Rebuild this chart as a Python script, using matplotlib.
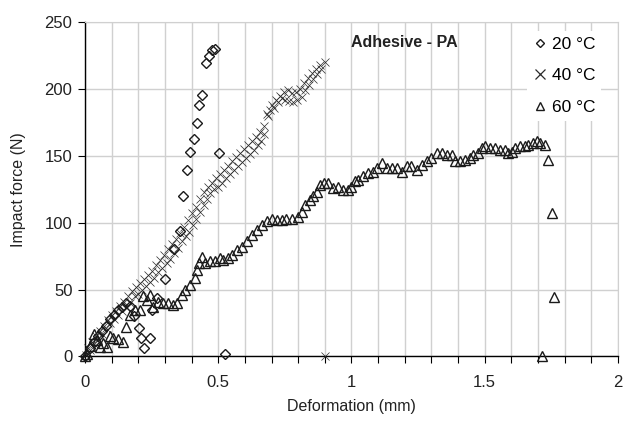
import matplotlib
matplotlib.use("Agg")
import matplotlib.pyplot as plt
from matplotlib.ticker import MultipleLocator

plt.rcParams['font.family'] = ['Liberation Sans', 'DejaVu Sans']

# 20 °C (diamonds)
x20 = [0.0, 0.02, 0.035, 0.05, 0.065, 0.08, 0.095, 0.11, 0.125, 0.14, 0.155, 0.17,
       0.185, 0.201, 0.211, 0.22, 0.243, 0.251, 0.27, 0.30, 0.335, 0.356, 0.367,
       0.383, 0.393, 0.408, 0.419, 0.428, 0.439, 0.455, 0.466, 0.478, 0.488, 0.503, 0.525]
y20 = [0, 6, 11, 15, 19, 23, 28, 31, 35, 37, 40, 38,
       30, 21, 13.6, 6, 14, 35, 44, 58, 80, 94, 119.6,
       139.4, 153, 162.6, 174.8, 188, 195.5, 219.4, 224.4, 228.9, 229.4, 151.8, 2]

# 40 °C (crosses)
x40 = [0.005, 0.02, 0.035, 0.05, 0.065, 0.08, 0.095, 0.11, 0.125, 0.14, 0.155, 0.17,
       0.188, 0.2, 0.215, 0.23, 0.245, 0.26, 0.275, 0.29, 0.309, 0.32, 0.335, 0.35,
       0.365, 0.378, 0.391, 0.405, 0.418, 0.432, 0.445, 0.458, 0.47, 0.485, 0.5, 0.515,
       0.53, 0.545, 0.56, 0.575, 0.59, 0.605, 0.62, 0.635, 0.65, 0.662, 0.672, 0.682,
       0.695, 0.71, 0.725, 0.738, 0.75, 0.765, 0.78, 0.795, 0.813, 0.825, 0.84, 0.855,
       0.87, 0.885, 0.9,
       0.01, 0.025, 0.04, 0.055, 0.07, 0.085, 0.1, 0.115, 0.13, 0.145, 0.16, 0.175,
       0.19, 0.205, 0.22, 0.235, 0.25, 0.265, 0.28, 0.295, 0.31, 0.325, 0.34, 0.355,
       0.37, 0.385, 0.4, 0.415, 0.43, 0.445, 0.46, 0.475, 0.49, 0.505, 0.52, 0.535,
       0.55, 0.565, 0.58, 0.595, 0.61, 0.625, 0.64, 0.655, 0.67, 0.685, 0.7, 0.715,
       0.73, 0.745, 0.76, 0.775, 0.79, 0.805, 0.82, 0.835, 0.85, 0.865, 0.88,
       0.9]
y40 = [1, 5, 9, 13, 17, 21, 25, 28, 31, 34, 37, 40,
       45, 47, 50, 53, 56, 59, 63, 66, 70, 73, 77, 81,
       86, 90, 93, 98, 103, 108, 113, 118, 122, 125, 127, 130,
       133, 136, 139, 142, 145, 148, 151, 154, 158, 161, 166, 181,
       184, 186, 190, 193, 192, 191, 190, 192, 194, 199, 203, 207,
       211, 215, 220,
       6, 11, 15, 19, 23, 27, 31, 34, 38, 41, 45, 49,
       52, 55, 58, 61, 64, 68, 72, 76, 80, 84, 88, 92,
       97, 102, 107, 112, 118, 123, 127, 130, 133, 136, 139, 142,
       146, 149, 152, 155, 158, 161, 164, 168, 172, 180, 188, 192,
       195, 198, 199, 197, 198, 200, 204, 208, 212, 215, 218,
       0]

# 60 °C (triangles)
x60 = [0.0, 0.009, 0.02, 0.033, 0.045, 0.056, 0.068, 0.081, 0.094, 0.105, 0.125, 0.141,
       0.154, 0.169, 0.188, 0.206, 0.219, 0.232, 0.244, 0.256, 0.275, 0.294, 0.313, 0.331,
       0.344, 0.363, 0.375, 0.394, 0.413, 0.419, 0.429, 0.438, 0.45, 0.469, 0.488, 0.507,
       0.519, 0.538, 0.55, 0.569, 0.588, 0.607, 0.625, 0.644, 0.663, 0.682, 0.70, 0.719,
       0.738, 0.756, 0.775, 0.80, 0.813, 0.825, 0.844, 0.857, 0.869, 0.882, 0.895, 0.913,
       0.932, 0.951, 0.969, 0.988, 1.0, 1.013, 1.026, 1.044, 1.063, 1.082, 1.094, 1.113,
       1.132, 1.151, 1.169, 1.188, 1.207, 1.225, 1.244, 1.263, 1.282, 1.30, 1.319, 1.338,
       1.357, 1.376, 1.388, 1.407, 1.426, 1.445, 1.457, 1.476, 1.488, 1.501, 1.52, 1.538,
       1.557, 1.576, 1.589, 1.601, 1.614, 1.632, 1.651, 1.664, 1.682, 1.695, 1.707, 1.726,
       1.739, 1.751, 1.76, 1.714]
y60 = [0, 2, 8, 17, 12, 7, 10, 7, 15, 14, 13, 11,
       22, 31, 35, 35, 45, 42, 46, 37, 41, 40, 40, 38.5,
       40, 46, 50, 53.5, 58.5, 64.7, 69.7, 74.7, 69.7, 71, 71, 73.5,
       72, 73.5, 76, 79.7, 82, 86, 91, 94.7, 98.4, 101, 103, 102,
       102, 103, 103, 104, 108, 113, 117, 119.6, 123, 128, 129.6, 129.6,
       126, 127, 124.6, 124.6, 127, 131, 132, 134.6, 137, 138, 141, 144.6,
       141, 141, 141, 138, 142, 142, 139.6, 143, 145.8, 148, 152, 152,
       150.8, 150.8, 145.8, 145.8, 147, 148, 150.8, 152, 155.8, 157, 155.8, 155.8,
       154.6, 154.6, 152, 153, 155.8, 157, 157, 158.3, 159.6, 160.8, 159.6, 158.3,
       147, 107, 44.3, 0]

labels = ['20 °C', '40 °C', '60 °C']

fig = plt.figure(figsize=(6.31, 4.30), dpi=100)
ax = fig.add_axes([0.1347, 0.171, 0.8447, 0.778])

ink = '#1a1a1a'
ax.plot(x40, y40, linestyle='none', marker='x', markersize=5.5, mew=0.5,
        color='#2a2a2a', label=labels[1], zorder=3, clip_on=False)
ax.plot(x60, y60, linestyle='none', marker='^', markersize=7, mew=1.0,
        mfc='none', mec=ink, label=labels[2], zorder=4, clip_on=False)
ax.plot(x20, y20, linestyle='none', marker='D', markersize=5, mew=1.0,
        mfc='none', mec=ink, label=labels[0], zorder=5, clip_on=False)

ax.set_xlim(0, 2)
ax.set_ylim(0, 250)
ax.xaxis.set_minor_locator(MultipleLocator(0.1))
ax.yaxis.set_major_locator(MultipleLocator(50))
ax.set_xticks([0, 0.5, 1, 1.5, 2])
ax.set_xticklabels(['0', '0.5', '1', '1.5', '2'])

ax.grid(True, which='both', axis='x', color='#d0d0d0', linewidth=1.0, zorder=0)
ax.grid(True, which='major', axis='y', color='#d0d0d0', linewidth=1.0, zorder=0)
ax.set_axisbelow(True)

for s in ['top', 'right']:
    ax.spines[s].set_color('#d0d0d0')
for s in ['left', 'bottom']:
    ax.spines[s].set_color('black')
    ax.spines[s].set_linewidth(1.0)

ax.tick_params(axis='both', which='major', direction='out', length=5, width=0.8,
               labelsize=12, colors='black', labelcolor='#222222')
ax.tick_params(axis='x', which='major', pad=8)
ax.tick_params(axis='x', which='minor', direction='out', length=5, width=0.8)
ax.tick_params(axis='y', which='major', pad=4)

ax.set_xlabel('Deformation (mm)', fontsize=11.5, color='#222222')
ax.set_ylabel('Impact force (N)', fontsize=11.5, color='#222222')
ax.xaxis.set_label_coords(0.5, -0.127)
ax.yaxis.set_label_coords(-0.111, 0.5)

ax.text(1.0, 235, 'Adhesive - PA', fontsize=11.5, fontweight='bold',
        ha='left', va='center', color='#222222', zorder=6)

h, l = ax.get_legend_handles_labels()
order = [2, 0, 1]
leg = ax.legend([h[i] for i in order], [l[i] for i in order],
                loc='upper right', bbox_to_anchor=(0.985, 1.0),
                frameon=True, fontsize=12.5, handlelength=0.8, handletextpad=0.25,
                labelspacing=0.95, borderpad=0.35)
for hd, ms, mw in zip(leg.legend_handles, [4.5, 6.5, 6.0], [1.0, 0.9, 1.0]):
    hd.set_markersize(ms)
    hd.set_markeredgewidth(mw)
leg.get_frame().set_facecolor('white')
leg.get_frame().set_edgecolor('none')
leg.get_frame().set_alpha(1.0)
leg.set_zorder(10)

fig.savefig('out.png', dpi=100)
